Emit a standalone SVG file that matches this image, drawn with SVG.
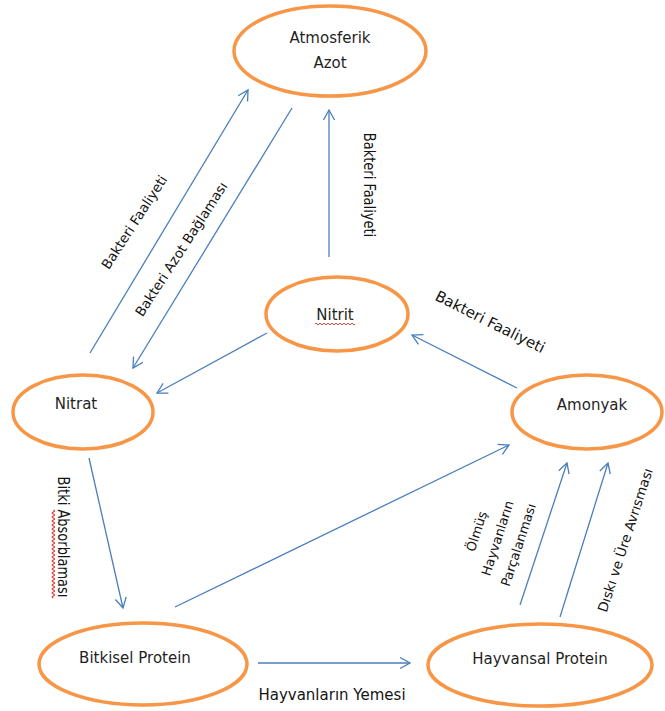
<svg xmlns="http://www.w3.org/2000/svg" width="665" height="711" viewBox="0 0 665 711">
  <defs>
    <marker id="arr" markerUnits="userSpaceOnUse" markerWidth="14" markerHeight="14" refX="11" refY="6" orient="auto">
      <path d="M1,0.5 L11,6 L1,11.5" fill="none" stroke="#4A7EBB" stroke-width="1.3"/>
    </marker>
  </defs>
  <style>
    .node { fill: #ffffff; stroke: #F79646; stroke-width: 3.5; }
    .lbl { font-family: "DejaVu Sans", "Liberation Sans", sans-serif; font-size: 15px; fill: #1f1f1f; text-anchor: middle; }
    .cl { font-family: "DejaVu Sans", "Liberation Sans", sans-serif; fill: #141414; text-anchor: middle; }
    .conn { stroke: #4A7EBB; stroke-width: 1.3; fill: none; marker-end: url(#arr); }
    .sq { stroke: #E03030; stroke-width: 0.9; fill: none; }
  </style>
  <rect width="665" height="711" fill="#ffffff"/>

  <g id="connectors">
    <path class="conn" d="M90,353 L248,90"/>
    <path class="conn" d="M292,108 L133,368"/>
    <path class="conn" d="M329,257 L329,110"/>
    <path class="conn" d="M267,333 L157,393"/>
    <path class="conn" d="M517,388 L412,335"/>
    <path class="conn" d="M89,458 L123,608"/>
    <path class="conn" d="M175,607 L509,445"/>
    <path class="conn" d="M258,663 L410,663"/>
    <path class="conn" d="M520,605 L567,463"/>
    <path class="conn" d="M560,617 L608,463"/>
  </g>

  <g id="connector-labels">
    <text class="cl" font-size="13.5" transform="translate(134,222) rotate(-57)" y="5">Bakteri Faaliyeti</text>
    <text class="cl" font-size="13.5" transform="translate(181,249) rotate(-57)" y="5">Bakteri Azot Bağlaması</text>
    <text class="cl" font-size="13" transform="translate(370,185) rotate(90) scale(1,1.25)" y="5">Bakteri Faaliyeti</text>
    <text class="cl" font-size="15" transform="translate(490,322) rotate(26.6)" y="5">Bakteri Faaliyeti</text>
    <g transform="translate(64,537) rotate(90) scale(1,1.25)">
      <text class="cl" font-size="13" y="5">Bitki Absorblaması</text>
      <path class="sq" d="M-27,8.5 q1,-2 2,0 t2,0 t2,0 t2,0 t2,0 t2,0 t2,0 t2,0 t2,0 t2,0 t2,0 t2,0 t2,0 t2,0 t2,0 t2,0 t2,0 t2,0 t2,0 t2,0 t2,0 t2,0 t2,0 t2,0 t2,0 t2,0 t2,0 t2,0 t2,0 t2,0 t2,0 t2,0 t2,0 t2,0 t2,0 t2,0 t2,0 t2,0 t2,0 t2,0 t2,0 t2,0 t2,0 t2,0"/>
    </g>
    <text class="cl" font-size="13" transform="translate(497,538) rotate(-72)"><tspan x="0" y="-17">Ölmüş</tspan><tspan x="0" y="5">Hayvanların</tspan><tspan x="0" y="27">Parçalanması</tspan></text>
    <text class="cl" font-size="13.5" transform="translate(625,540) rotate(-72)" y="5">Dıskı ve Üre Avrısması</text>
    <text class="cl" font-size="15" x="332" y="700">Hayvanların Yemesi</text>
  </g>

  <g id="node-atmosferik-azot">
    <ellipse class="node" cx="330" cy="51" rx="96" ry="45"/>
    <text class="lbl" x="330" y="43" font-size="16">Atmosferik</text>
    <text class="lbl" x="330" y="68" font-size="16">Azot</text>
  </g>
  <g id="node-nitrit">
    <ellipse class="node" cx="337" cy="314" rx="71" ry="37"/>
    <text class="lbl" x="335" y="320">Nitrit</text>
    <path class="sq" d="M315,324 q1,-2 2,0 t2,0 t2,0 t2,0 t2,0 t2,0 t2,0 t2,0 t2,0 t2,0 t2,0 t2,0 t2,0 t2,0 t2,0 t2,0 t2,0 t2,0 t2,0 t2,0"/>
  </g>
  <g id="node-nitrat">
    <ellipse class="node" cx="83" cy="412" rx="70" ry="37"/>
    <text class="lbl" x="76" y="409" font-size="16">Nitrat</text>
  </g>
  <g id="node-amonyak">
    <ellipse class="node" cx="587" cy="412" rx="75" ry="37"/>
    <text class="lbl" x="592" y="410" font-size="16">Amonyak</text>
  </g>
  <g id="node-bitkisel-protein">
    <ellipse class="node" cx="143" cy="664" rx="104" ry="41"/>
    <text class="lbl" x="135" y="663" font-size="16">Bitkisel Protein</text>
  </g>
  <g id="node-hayvansal-protein">
    <ellipse class="node" cx="540" cy="665" rx="112" ry="41"/>
    <text class="lbl" x="540" y="664">Hayvansal Protein</text>
  </g>
</svg>
